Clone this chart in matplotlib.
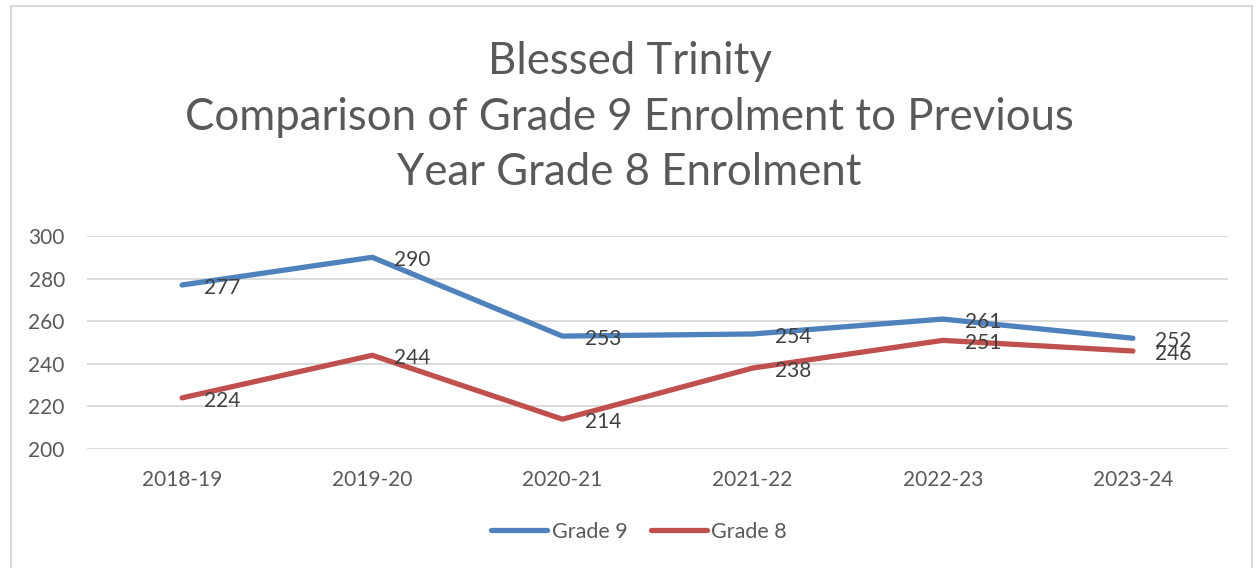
import matplotlib.pyplot as plt
from matplotlib.patches import Rectangle

years = ["2018-19", "2019-20", "2020-21", "2021-22", "2022-23", "2023-24"]
grade9 = [277, 290, 253, 254, 261, 252]
grade8 = [224, 244, 214, 238, 251, 246]

plt.rcParams['font.family'] = ['Lato', 'DejaVu Sans']

fig = plt.figure(figsize=(12.59, 5.68), dpi=100)
ax = fig.add_axes([87 / 1259, 1 - 449 / 568, (1228 - 87) / 1259, (449 - 236) / 568])

# outer chart border
fig.patches.append(Rectangle((11 / 1259, -0.05), (1252 - 11) / 1259, 1 - 6 / 568 + 0.05,
                             transform=fig.transFigure, fill=False,
                             edgecolor="#d9d9d9", linewidth=1.5))

x = range(len(years))
ax.plot(x, grade9, color="#4f81bd", linewidth=3.8, solid_capstyle="round", label="Grade 9")
ax.plot(x, grade8, color="#c0504d", linewidth=3.8, solid_capstyle="round", label="Grade 8")

for series in (grade9, grade8):
    for i, v in enumerate(series):
        ax.annotate(str(v), (i, v), xytext=(16, -2), textcoords="offset points",
                    ha="left", va="center", fontsize=15, color="#404040")

ax.set_xlim(-0.5, 5.5)
ax.set_ylim(200, 300)
ax.set_yticks(range(200, 301, 20))
ax.set_xticks(list(x))
ax.set_xticklabels(years)
ax.tick_params(length=0, labelsize=15, colors="#595959")
ax.tick_params(axis="x", pad=15)
ax.tick_params(axis="y", pad=16)
for s in ax.spines.values():
    s.set_visible(False)
ax.grid(axis="y", color="#d9d9d9", linewidth=1.3)
ax.set_axisbelow(True)

fig.text(0.5, 1 - 117 / 568, "Blessed Trinity\nComparison of Grade 9 Enrolment to Previous\nYear Grade 8 Enrolment",
         ha="center", va="center", fontsize=31.5, color="#595959", linespacing=1.45)

ax.legend(loc="center", bbox_to_anchor=(0.484, (449 - 532) / (449 - 236)), ncol=2, frameon=False,
          fontsize=15.5, labelcolor="#595959", handlelength=2.6, handletextpad=0.2, columnspacing=1.1)

fig.savefig("out.png", dpi=100)
